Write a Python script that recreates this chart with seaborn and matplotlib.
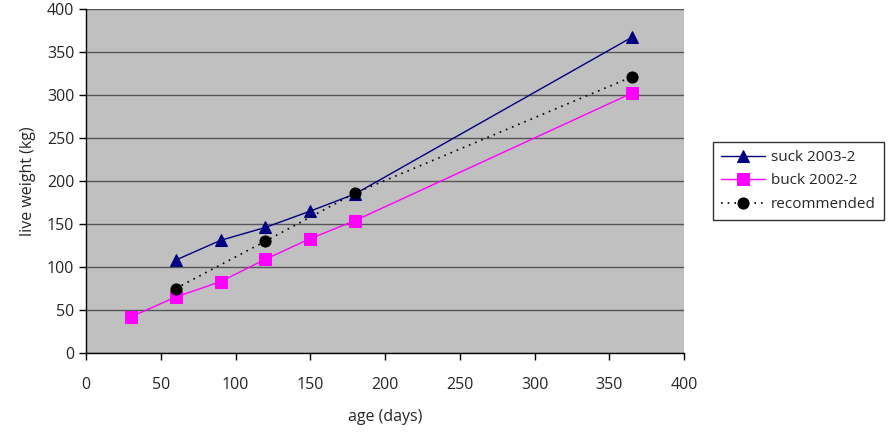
import matplotlib
matplotlib.use("Agg")
import matplotlib.pyplot as plt
import seaborn as sns
import pandas as pd

suck_age = [60, 90, 120, 150, 180, 365]
suck_wt = [108, 131, 146, 165, 185, 367]
buck_age = [30, 60, 90, 120, 150, 180, 365]
buck_wt = [42, 65, 83, 109, 133, 154, 302]
rec_age = [60, 120, 180, 365]
rec_wt = [75, 130, 186, 321]

sns.set_theme(style="white")
plt.rcParams['font.family'] = ['Open Sans', 'DejaVu Sans']

fig = plt.figure(figsize=(8.88, 4.34), dpi=100)
ax = fig.add_axes([86/888, 1-353/434, (684-86)/888, (353-9)/434])
ax.set_facecolor('#C0C0C0')

sns.lineplot(x=suck_age, y=suck_wt, ax=ax, color='#000080', marker='^', markersize=9,
             markeredgecolor='#000080', linewidth=1, label='suck 2003-2')
sns.lineplot(x=buck_age, y=buck_wt, ax=ax, color='#FF00FF', marker='s', markersize=8,
             markeredgecolor='#FF00FF', linewidth=1, label='buck 2002-2')
sns.lineplot(x=rec_age, y=rec_wt, ax=ax, color='black', marker='o', markersize=8,
             markeredgecolor='black',
             linestyle=(0, (1, 3)), linewidth=1.2, label='recommended')

ax.set_xlim(0, 400)
ax.set_ylim(0, 400)
ax.set_xticks(range(0, 401, 50))
ax.set_yticks(range(0, 401, 50))
ax.yaxis.grid(True, color='#555555', linewidth=1)
ax.set_axisbelow(True)
for s in ['top', 'right']:
    ax.spines[s].set_visible(False)
for s in ['left', 'bottom']:
    ax.spines[s].set_color('black')
    ax.spines[s].set_linewidth(1)
ax.tick_params(axis='both', direction='out', length=5, width=1, color='black',
               labelsize=11.5, bottom=True, left=True)
ax.tick_params(axis='x', pad=12)
ax.set_xlabel('age (days)', fontsize=11.5, labelpad=12)
ax.set_ylabel('live weight (kg)', fontsize=11.5, labelpad=8)

leg = ax.legend(loc='center left', bbox_to_anchor=(713/888, 1-181/434),
                bbox_transform=fig.transFigure, frameon=True, fontsize=11,
                fancybox=False, edgecolor='black', borderpad=0.5, labelspacing=0.55,
                handlelength=2.9, handletextpad=0.4, borderaxespad=0)
leg.get_frame().set_linewidth(1)
leg.get_frame().set_facecolor('white')

fig.savefig('out.png', dpi=100, facecolor='white')
